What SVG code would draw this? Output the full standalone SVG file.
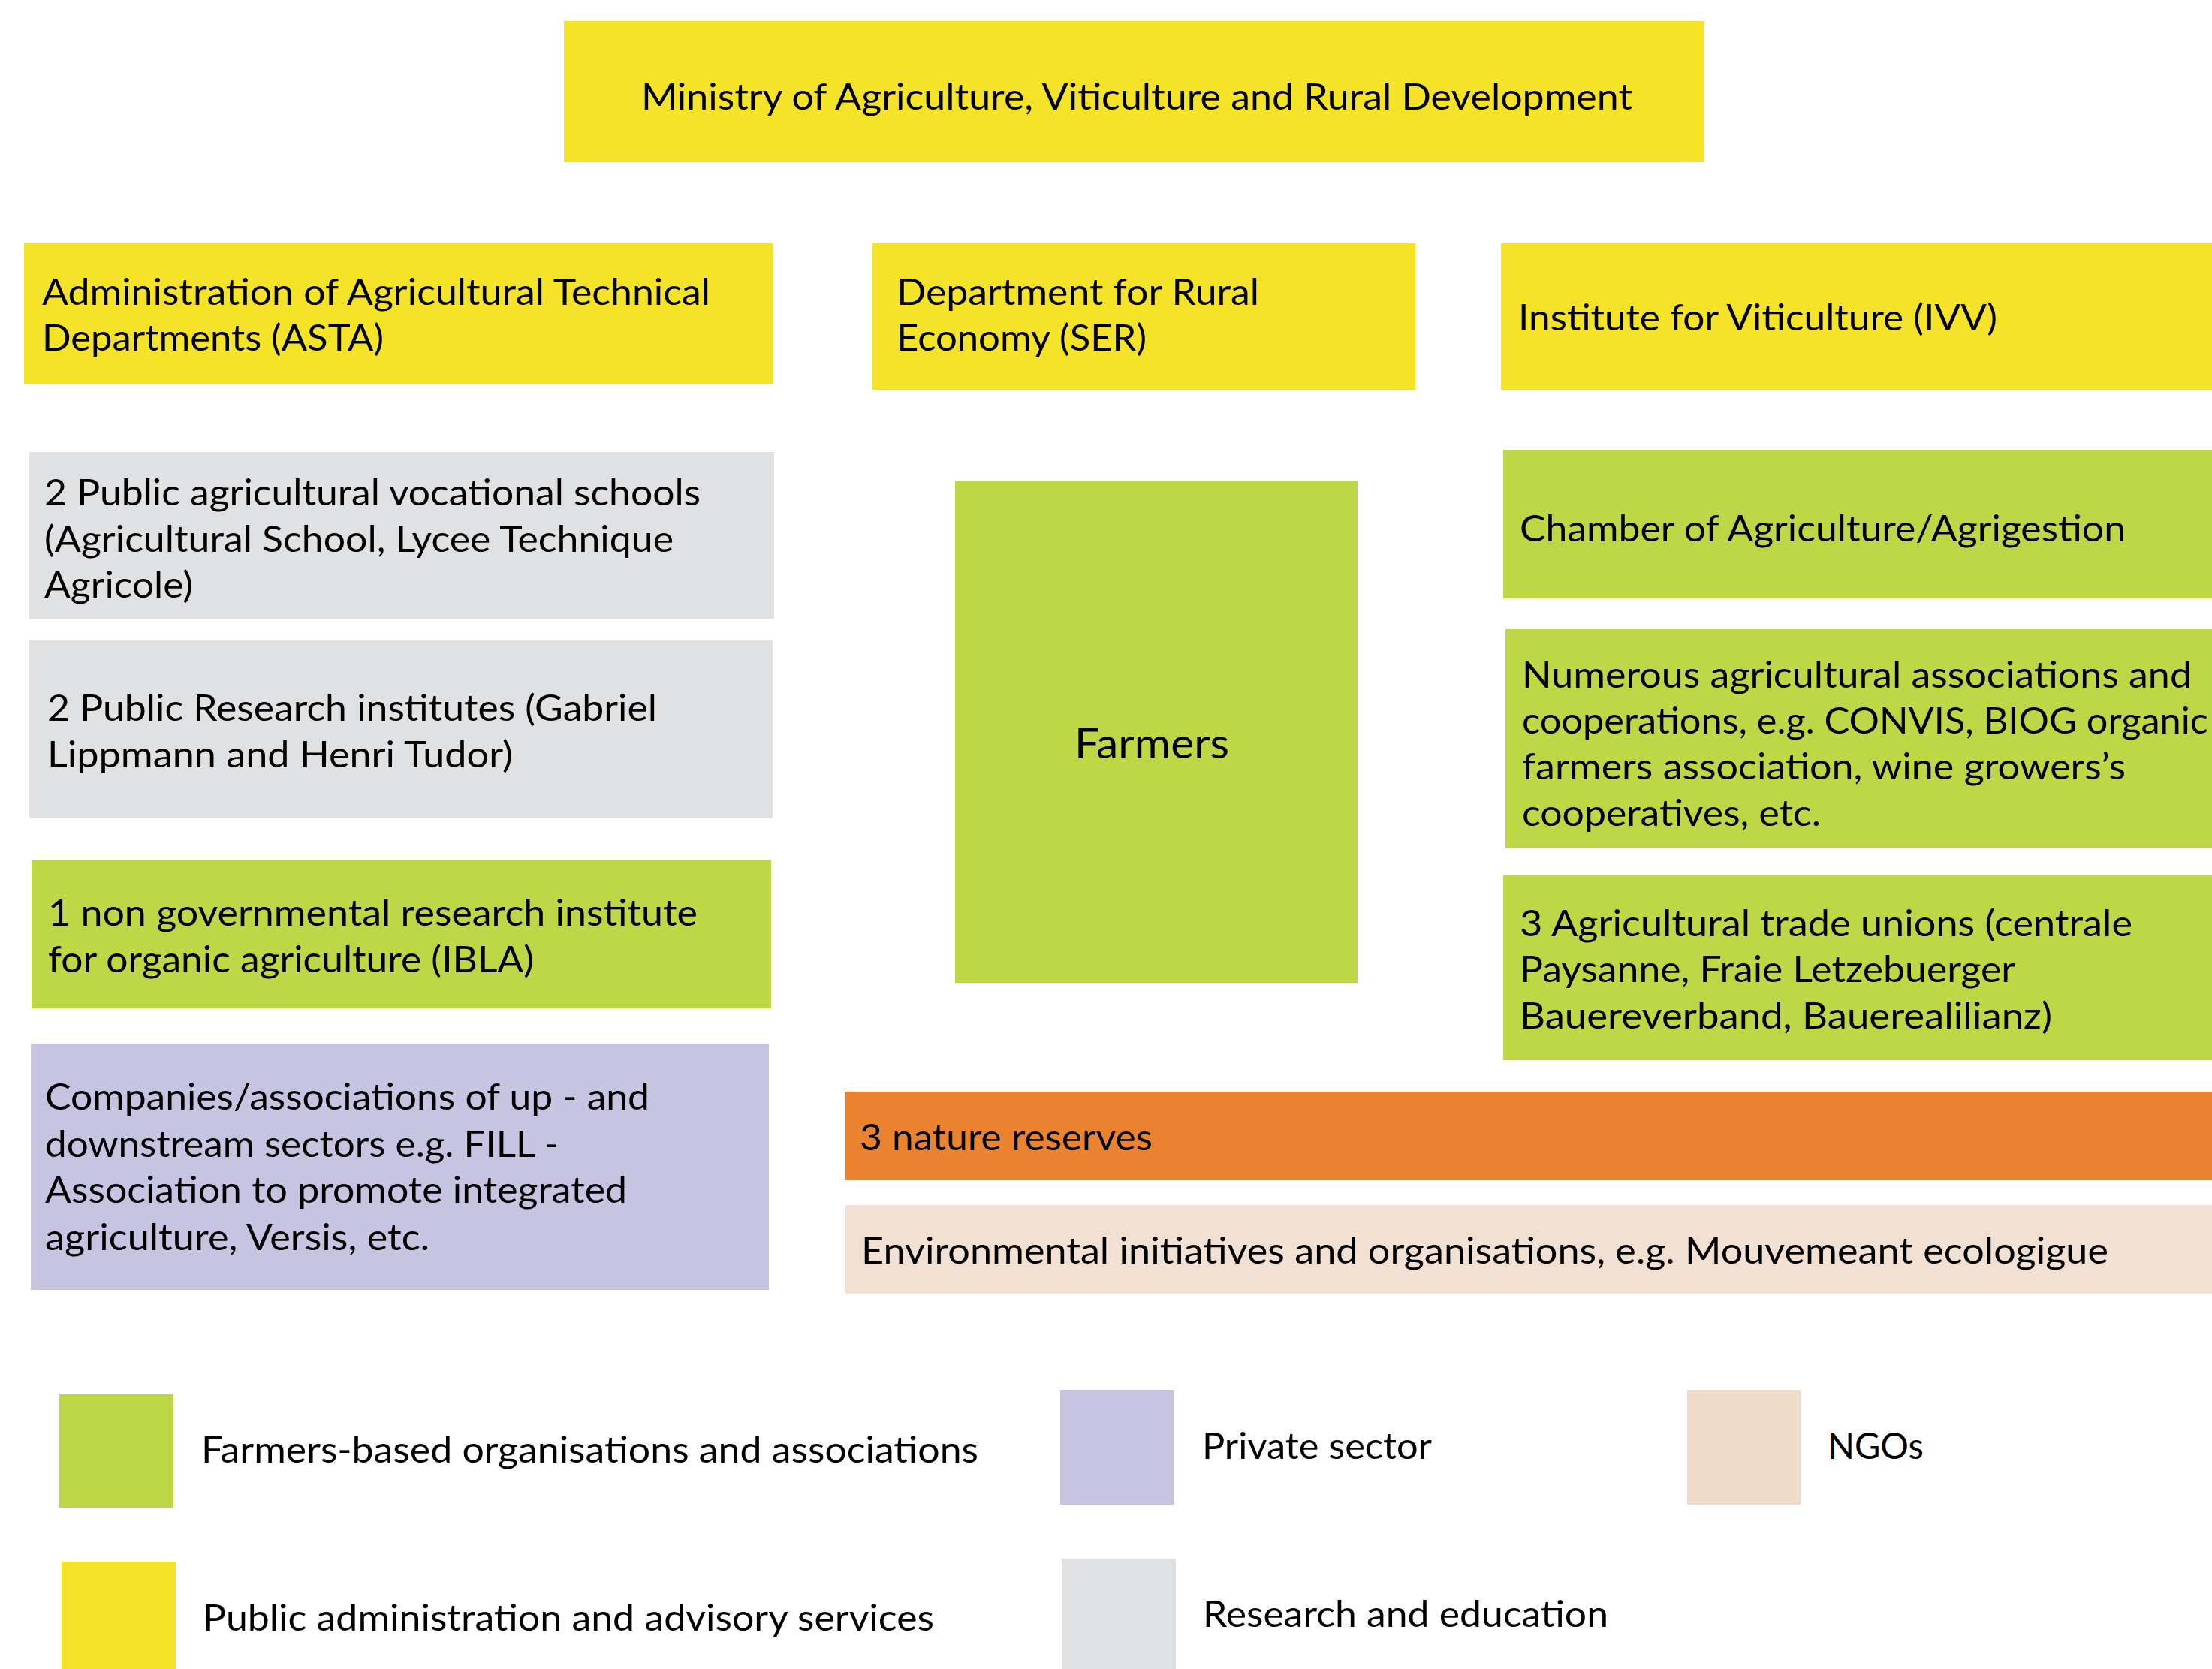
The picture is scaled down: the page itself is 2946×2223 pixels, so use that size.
<svg xmlns="http://www.w3.org/2000/svg" width="2946" height="2223" viewBox="0 0 2946 2223">
<style>
text{font-family:Lato,"Liberation Sans","DejaVu Sans",sans-serif;font-size:48px;fill:#000;}
.big{font-size:57px;}
.y{fill:#F5E32A;}
.g{fill:#BED746;}
.gr{fill:#E0E1E3;}
.p{fill:#C6C4E0;}
.o{fill:#E9832F;}
.n{fill:#F2E1D3;}
.nl{fill:#F0DBC8;}
</style>
<rect width="2946" height="2223" fill="#fff"/>
<g id="connectors"></g>
<g id="ministry">
<rect class="y" x="751" y="28" width="1519" height="188"/>
<text x="854" y="146" textLength="1320" lengthAdjust="spacingAndGlyphs">Ministry of Agriculture, Viticulture and Rural Development</text>
</g>
<g id="asta">
<rect class="y" x="32" y="324" width="997" height="188"/>
<text x="56" y="406" textLength="890" lengthAdjust="spacingAndGlyphs">Administration of Agricultural Technical</text>
<text x="56" y="467" textLength="455" lengthAdjust="spacingAndGlyphs">Departments (ASTA)</text>
</g>
<g id="ser">
<rect class="y" x="1162" y="324" width="723" height="195"/>
<text x="1194" y="406" textLength="483" lengthAdjust="spacingAndGlyphs">Department for Rural</text>
<text x="1194" y="467" textLength="333" lengthAdjust="spacingAndGlyphs">Economy (SER)</text>
</g>
<g id="ivv">
<rect class="y" x="1999" y="324" width="947" height="195"/>
<text x="2022" y="440" textLength="638" lengthAdjust="spacingAndGlyphs">Institute for Viticulture (IVV)</text>
</g>
<g id="schools">
<rect class="gr" x="39" y="602" width="992" height="222"/>
<text x="59" y="673" textLength="874" lengthAdjust="spacingAndGlyphs">2 Public agricultural vocational schools</text>
<text x="59" y="735" textLength="838" lengthAdjust="spacingAndGlyphs">(Agricultural School, Lycee Technique</text>
<text x="59" y="796" textLength="198" lengthAdjust="spacingAndGlyphs">Agricole)</text>
</g>
<g id="research">
<rect class="gr" x="39" y="853" width="990" height="237"/>
<text x="63" y="960" textLength="812" lengthAdjust="spacingAndGlyphs">2 Public Research institutes (Gabriel</text>
<text x="63" y="1022" textLength="620" lengthAdjust="spacingAndGlyphs">Lippmann and Henri Tudor)</text>
</g>
<g id="ibla">
<rect class="g" x="42" y="1145" width="985" height="198"/>
<text x="64" y="1233" textLength="865" lengthAdjust="spacingAndGlyphs">1 non governmental research institute</text>
<text x="64" y="1295" textLength="647" lengthAdjust="spacingAndGlyphs">for organic agriculture (IBLA)</text>
</g>
<g id="companies">
<rect class="p" x="41" y="1390" width="983" height="328"/>
<text x="60" y="1478" textLength="805" lengthAdjust="spacingAndGlyphs">Companies/associations of up - and</text>
<text x="60" y="1541" textLength="684" lengthAdjust="spacingAndGlyphs">downstream sectors e.g. FILL -</text>
<text x="60" y="1602" textLength="775" lengthAdjust="spacingAndGlyphs">Association to promote integrated</text>
<text x="60" y="1665" textLength="512" lengthAdjust="spacingAndGlyphs">agriculture, Versis, etc.</text>
</g>
<g id="farmers">
<rect class="g" x="1272" y="640" width="536" height="669"/>
<text class="big" x="1534" y="1010" text-anchor="middle" textLength="206" lengthAdjust="spacingAndGlyphs">Farmers</text>
</g>
<g id="chamber">
<rect class="g" x="2002" y="599" width="944" height="198"/>
<text x="2024" y="721" textLength="807" lengthAdjust="spacingAndGlyphs">Chamber of Agriculture/Agrigestion</text>
</g>
<g id="associations">
<rect class="g" x="2005" y="838" width="941" height="292"/>
<text x="2027" y="916" textLength="892" lengthAdjust="spacingAndGlyphs">Numerous agricultural associations and</text>
<text x="2027" y="977" textLength="914" lengthAdjust="spacingAndGlyphs">cooperations, e.g. CONVIS, BIOG organic</text>
<text x="2027" y="1038" textLength="804" lengthAdjust="spacingAndGlyphs">farmers association, wine growers’s</text>
<text x="2027" y="1100" textLength="398" lengthAdjust="spacingAndGlyphs">cooperatives, etc.</text>
</g>
<g id="unions">
<rect class="g" x="2002" y="1165" width="944" height="247"/>
<text x="2024" y="1247" textLength="816" lengthAdjust="spacingAndGlyphs">3 Agricultural trade unions (centrale</text>
<text x="2024" y="1308" textLength="660" lengthAdjust="spacingAndGlyphs">Paysanne, Fraie Letzebuerger</text>
<text x="2024" y="1370" textLength="709" lengthAdjust="spacingAndGlyphs">Bauereverband, Bauerealilianz)</text>
</g>
<g id="reserves">
<rect class="o" x="1125" y="1454" width="1821" height="118"/>
<text x="1145" y="1532" textLength="390" lengthAdjust="spacingAndGlyphs">3 nature reserves</text>
</g>
<g id="environmental">
<rect class="n" x="1126" y="1605" width="1820" height="118"/>
<text x="1147" y="1683" textLength="1661" lengthAdjust="spacingAndGlyphs">Environmental initiatives and organisations, e.g. Mouvemeant ecologigue</text>
</g>
<g id="legend-farmers">
<rect class="g" x="79" y="1857" width="152" height="151"/>
<text x="268" y="1948" textLength="1035" lengthAdjust="spacingAndGlyphs">Farmers-based organisations and associations</text>
</g>
<g id="legend-public">
<rect class="y" x="82" y="2080" width="152" height="143"/>
<text x="270" y="2172" textLength="974" lengthAdjust="spacingAndGlyphs">Public administration and advisory services</text>
</g>
<g id="legend-private">
<rect class="p" x="1412" y="1852" width="152" height="152"/>
<text x="1601" y="1943" textLength="306" lengthAdjust="spacingAndGlyphs">Private sector</text>
</g>
<g id="legend-research">
<rect class="gr" x="1414" y="2076" width="152" height="147"/>
<text x="1602" y="2167" textLength="540" lengthAdjust="spacingAndGlyphs">Research and education</text>
</g>
<g id="legend-ngo">
<rect class="nl" x="2247" y="1852" width="151" height="152"/>
<text x="2434" y="1943" textLength="128" lengthAdjust="spacingAndGlyphs">NGOs</text>
</g>
</svg>
